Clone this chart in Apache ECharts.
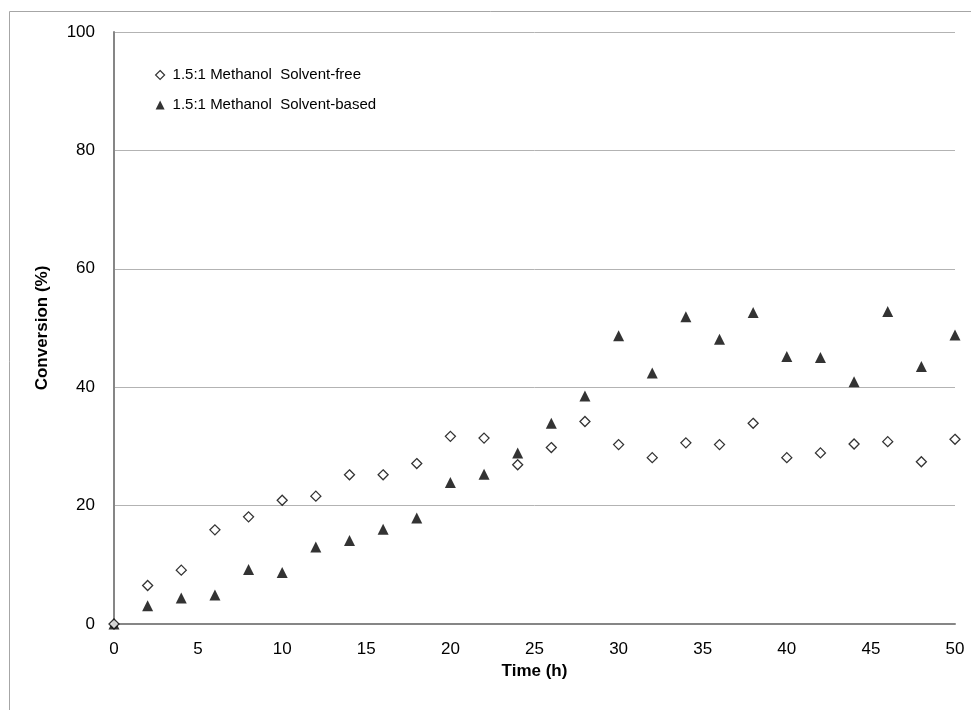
<!DOCTYPE html>
<html>
<head>
<meta charset="utf-8">
<script src="https://cdn.jsdelivr.net/npm/echarts@6/dist/echarts.min.js"></script>
<style>
  html, body { margin: 0; padding: 0; background: #fff; }
  #chart { width: 971px; height: 710px; }
</style>
</head>
<body>
<div id="chart"></div>
<script>
// Sampling times (h)
const times = [0, 2, 4, 6, 8, 10, 12, 14, 16, 18, 20, 22, 24, 26, 28, 30, 32, 34, 36, 38, 40, 42, 44, 46, 48, 50];

// Conversion (%) for each reaction setup
const solventFree = [0, 6.5, 9.1, 15.9, 18.1, 20.9, 21.6, 25.2, 25.2, 27.1, 31.7, 31.4, 26.9, 29.8,
                     34.2, 30.3, 28.1, 30.6, 30.3, 33.9, 28.1, 28.9, 30.4, 30.8, 27.4, 31.2];
const solventBased = [0, 3.1, 4.4, 4.9, 9.2, 8.7, 13.0, 14.1, 16.0, 17.9, 23.9, 25.3, 28.9, 33.9,
                      38.5, 48.7, 42.4, 51.9, 48.1, 52.6, 45.2, 45.0, 40.9, 52.8, 43.5, 48.8];

const seriesNames = ['1.5:1 Methanol  Solvent-free', '1.5:1 Methanol  Solvent-based'];

const xTicks = { min: 0, max: 50, interval: 5 };
const yTicks = { min: 0, max: 100, interval: 20 };

const pairs = (ys) => times.map((t, i) => [t, ys[i]]);

const font = 'Liberation Sans, Arial, sans-serif';
const chart = echarts.init(document.getElementById('chart'));

chart.setOption({
  animation: false,
  backgroundColor: '#fff',
  graphic: [{
    type: 'rect',
    shape: { x: 9.5, y: 11.5, width: 1000, height: 1000 },
    style: { fill: 'none', stroke: '#a6a6a6', lineWidth: 1 },
    silent: true
  }],
  grid: { left: 114, right: 16, top: 32, bottom: 86 },
  legend: {
    left: 150, top: 61, orient: 'vertical', itemGap: 12,
    itemWidth: 9, itemHeight: 9,
    textStyle: { fontFamily: font, fontSize: 15, lineHeight: 18, color: '#000', padding: [0, 0, 0, 3] },
    data: [
      { name: seriesNames[0], icon: 'diamond', itemStyle: { color: '#fff', borderColor: '#000', borderWidth: 1.2 } },
      { name: seriesNames[1], icon: 'triangle', itemStyle: { color: '#000' } }
    ]
  },
  xAxis: {
    type: 'value', min: xTicks.min, max: xTicks.max, interval: xTicks.interval,
    name: 'Time (h)', nameLocation: 'middle', nameGap: 33,
    nameTextStyle: { fontFamily: font, fontSize: 17, fontWeight: 'bold', color: '#000' },
    axisLine: { lineStyle: { color: '#868686', width: 2 } },
    axisTick: { show: false },
    axisLabel: { fontFamily: font, fontSize: 17, color: '#000', margin: 17 },
    splitLine: { show: false }
  },
  yAxis: {
    type: 'value', min: yTicks.min, max: yTicks.max, interval: yTicks.interval,
    name: 'Conversion (%)', nameLocation: 'middle', nameGap: 63, nameRotate: 90,
    nameTextStyle: { fontFamily: font, fontSize: 17, fontWeight: 'bold', color: '#000' },
    axisLine: { show: true, lineStyle: { color: '#868686', width: 2 } },
    axisTick: { show: false },
    axisLabel: { fontFamily: font, fontSize: 17, color: '#000', margin: 19 },
    splitLine: { lineStyle: { color: '#b3b3b3', width: 1 } }
  },
  series: [
    {
      name: seriesNames[0], type: 'scatter', symbol: 'diamond', symbolSize: 10,
      itemStyle: { color: '#fff', borderColor: '#000', borderWidth: 1.3 },
      data: pairs(solventFree), z: 3
    },
    {
      name: seriesNames[1], type: 'scatter', symbol: 'triangle', symbolSize: 11,
      itemStyle: { color: '#000' },
      data: pairs(solventBased), z: 2
    }
  ]
});
</script>
</body>
</html>
